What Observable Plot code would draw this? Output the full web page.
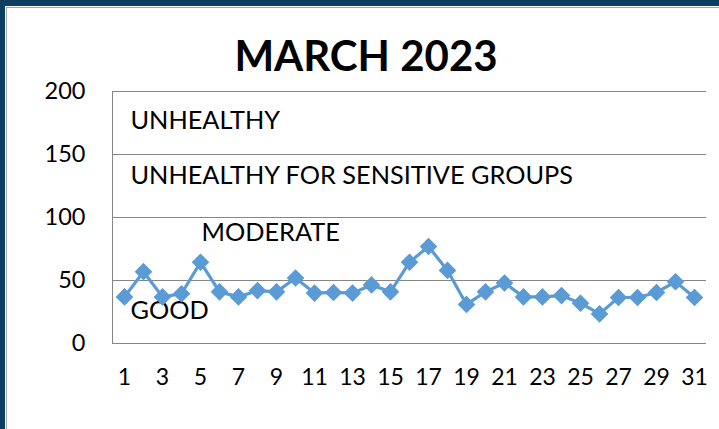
<!DOCTYPE html>
<html>
<head>
<meta charset="utf-8">
<script src="https://cdn.jsdelivr.net/npm/d3@7"></script>
<script src="https://cdn.jsdelivr.net/npm/@observablehq/plot@0.6"></script>
<style>
  html, body { margin: 0; padding: 0; overflow: hidden; background: #fff; }
  #frame { position: absolute; left: 0; top: 0; width: 714px; height: 423px;
           border-left: 5px solid #0b3f61; border-top: 6px solid #0b3f61; }
  #inner { position: absolute; left: 1px; top: 1px; right: 0; bottom: 0;
           border-left: 1px solid #a6a6a6; border-top: 1px solid #a6a6a6; }
  #title { position: absolute; left: 0; width: 720px; top: 22px; text-align: center;
           font-family: Lato, sans-serif; font-weight: bold; font-size: 42px; color: #000;
           margin-left: -1px; }
  #chart { position: absolute; left: 0; top: 60px; }
</style>
</head>
<body>
<div id="frame"><div id="inner">
  <div id="title">MARCH 2023</div>
  <div id="chart"></div>
</div></div>
<script>
const days = d3.range(1, 32);
const aqi = [37, 57, 37, 39.5, 64.5, 41, 37, 42, 41, 52, 40, 40.5, 40, 46.5, 41, 64.5,
             77, 58, 31, 41, 48, 37, 37, 38, 32, 23.5, 36.5, 36.5, 40.5, 49, 36.5];
const yTicks = [0, 50, 100, 150, 200];
const xTicks = [1, 3, 5, 7, 9, 11, 13, 15, 17, 19, 21, 23, 25, 27, 29, 31];
const bandNames = ["UNHEALTHY", "UNHEALTHY FOR SENSITIVE GROUPS", "MODERATE", "GOOD"];
const bandDay = [1, 1, 5, 1];
const bandValue = [177, 133, 88, 26];

const data = days.map((d, i) => ({day: d, value: aqi[i]}));
const labels = bandNames.map((t, i) => ({text: t, day: bandDay[i], value: bandValue[i]}));

const chart = Plot.plot({
  width: 712,
  height: 369,
  marginLeft: 105,
  marginRight: 13,
  marginTop: 23,
  marginBottom: 94,
  style: {fontFamily: "Lato, sans-serif", fontSize: "23px", color: "#000", background: "transparent"},
  x: {type: "point", domain: days, padding: 0.5, label: null},
  y: {domain: [0, 200], label: null},
  marks: [
    Plot.ruleY(yTicks, {stroke: "#868686", strokeWidth: 1}),
    Plot.frame({anchor: "left", stroke: "#868686"}),
    Plot.axisY({ticks: yTicks, tickSize: 0, tickPadding: 27, fontSize: 23.5, label: null}),
    Plot.axisX({ticks: xTicks, tickSize: 0, tickPadding: 25, fontSize: 23, label: null}),
    Plot.text(labels.filter(d => d.day === 1), {x: "day", y: "value", text: "text", textAnchor: "start", dx: 6,
                       fontSize: 25.3, fill: "#000"}),
    Plot.text(labels.filter(d => d.day !== 1), {x: "day", y: "value", text: "text", textAnchor: "start", dx: 1,
                       fontSize: 25.3, fill: "#000"}),
    Plot.line(data, {x: "day", y: "value", stroke: "#5b9bd5", strokeWidth: 3.2}),
    Plot.dot(data, {x: "day", y: "value", symbol: "diamond2", r: 7, fill: "#5b9bd5", stroke: "#5b9bd5"})
  ]
});
document.getElementById("chart").appendChild(chart);
</script>
</body>
</html>
